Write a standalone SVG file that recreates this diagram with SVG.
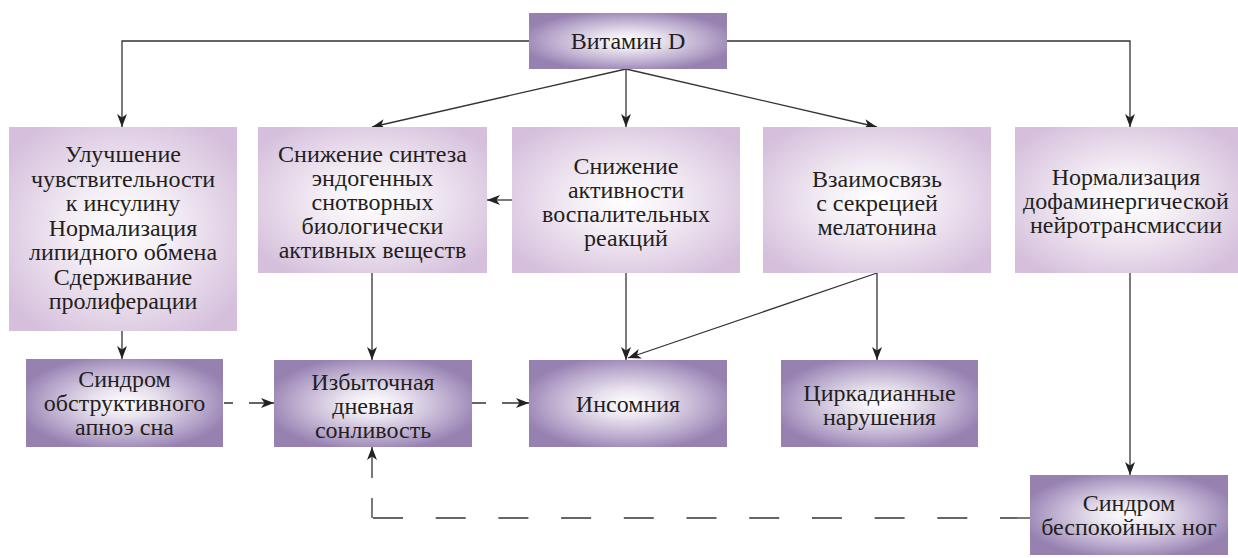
<svg xmlns="http://www.w3.org/2000/svg" width="1238" height="558" viewBox="0 0 1238 558">
<defs>
<radialGradient id="light" cx="0.5" cy="0.5" r="0.62">
<stop offset="0" stop-color="#ffffff"/>
<stop offset="0.35" stop-color="#f4eef5"/>
<stop offset="1" stop-color="#d5bfdc"/>
</radialGradient>
<radialGradient id="dark" cx="0.5" cy="0.5" r="0.55">
<stop offset="0" stop-color="#ffffff"/>
<stop offset="0.3" stop-color="#e9e3ef"/>
<stop offset="0.75" stop-color="#b6a5ca"/>
<stop offset="1" stop-color="#9681b1"/>
</radialGradient>
<marker id="arr" markerUnits="userSpaceOnUse" viewBox="0 0 13 10" refX="13" refY="5" markerWidth="13" markerHeight="10" orient="auto">
<path d="M0,0 L13,5 L0,10 L3.5,5 Z" fill="#222"/>
</marker>
<style>
.lt{fill:url(#light)}
.dk{fill:url(#dark)}
text{font-family:"Liberation Serif","DejaVu Serif",serif;font-size:24px;fill:#231f20;text-anchor:middle}
.c{fill:none;stroke:#333;stroke-width:1.3}
.a{marker-end:url(#arr)}
</style>
</defs>
<g id="connectors">
<path class="c a" d="M529,41 H122 V127"/>
<path class="c a" d="M727,41 H1130 V127"/>
<path class="c a" d="M626,69 L372,127"/>
<path class="c a" d="M626,69 V127"/>
<path class="c a" d="M626,69 L877,127"/>
<path class="c a" d="M512,200 H487"/>
<path class="c a" d="M122,331 V359"/>
<path class="c a" d="M372,273 V360"/>
<path class="c a" d="M626,273 V360"/>
<path class="c a" d="M877,273 L628,358"/>
<path class="c a" d="M877,273 V360"/>
<path class="c a" d="M1130,273 V475"/>
<path class="c a" d="M224,403 H274" stroke-dasharray="9 16 40"/>
<path class="c a" d="M472,403 H529" stroke-dasharray="14 16 40"/>
<path class="c" d="M1030,518 H372" stroke-dasharray="30 32.7"/>
<path class="c a" d="M372,518 V447" stroke-dasharray="20 20 60"/>
</g>
<g id="vitd"><rect class="dk" x="529" y="13" width="198" height="56"/><text x="628" y="49">Витамин D</text></g>
<g id="n1"><rect class="lt" x="9" y="127" width="228" height="204"/>
<text x="123"><tspan x="123" y="162">Улучшение</tspan><tspan x="123" y="186.5">чувствительности</tspan><tspan x="123" y="211">к инсулину</tspan><tspan x="123" y="235.5">Нормализация</tspan><tspan x="123" y="260">липидного обмена</tspan><tspan x="123" y="284.5">Сдерживание</tspan><tspan x="123" y="309">пролиферации</tspan></text></g>
<g id="n2"><rect class="lt" x="258" y="127" width="229" height="146"/>
<text x="372.5"><tspan x="372.5" y="162">Снижение синтеза</tspan><tspan x="372.5" y="186">эндогенных</tspan><tspan x="372.5" y="210">снотворных</tspan><tspan x="372.5" y="234">биологически</tspan><tspan x="372.5" y="258">активных веществ</tspan></text></g>
<g id="n3"><rect class="lt" x="512" y="127" width="228" height="146"/>
<text x="626"><tspan x="626" y="174">Снижение</tspan><tspan x="626" y="198">активности</tspan><tspan x="626" y="222">воспалительных</tspan><tspan x="626" y="246">реакций</tspan></text></g>
<g id="n4"><rect class="lt" x="763" y="127" width="228" height="146"/>
<text x="877"><tspan x="877" y="187">Взаимосвязь</tspan><tspan x="877" y="211">с секрецией</tspan><tspan x="877" y="235">мелатонина</tspan></text></g>
<g id="n5"><rect class="lt" x="1015" y="127" width="223" height="146"/>
<text x="1126"><tspan x="1126" y="185">Нормализация</tspan><tspan x="1126" y="209">дофаминергической</tspan><tspan x="1126" y="233">нейротрансмиссии</tspan></text></g>
<g id="osa"><rect class="dk" x="26" y="359" width="197" height="88"/>
<text x="124.5"><tspan x="124.5" y="387">Синдром</tspan><tspan x="124.5" y="411">обструктивного</tspan><tspan x="124.5" y="435">апноэ сна</tspan></text></g>
<g id="eds"><rect class="dk" x="274" y="360" width="198" height="87"/>
<text x="373"><tspan x="373" y="390">Избыточная</tspan><tspan x="373" y="414">дневная</tspan><tspan x="373" y="438">сонливость</tspan></text></g>
<g id="ins"><rect class="dk" x="529" y="360" width="198" height="87"/><text x="628" y="412">Инсомния</text></g>
<g id="circ"><rect class="dk" x="781" y="360" width="197" height="87"/>
<text x="879.5"><tspan x="879.5" y="401">Циркадианные</tspan><tspan x="879.5" y="425">нарушения</tspan></text></g>
<g id="rls"><rect class="dk" x="1030" y="475" width="198" height="80"/>
<text x="1129"><tspan x="1129" y="511">Синдром</tspan><tspan x="1129" y="535">беспокойных ног</tspan></text></g>
</svg>
